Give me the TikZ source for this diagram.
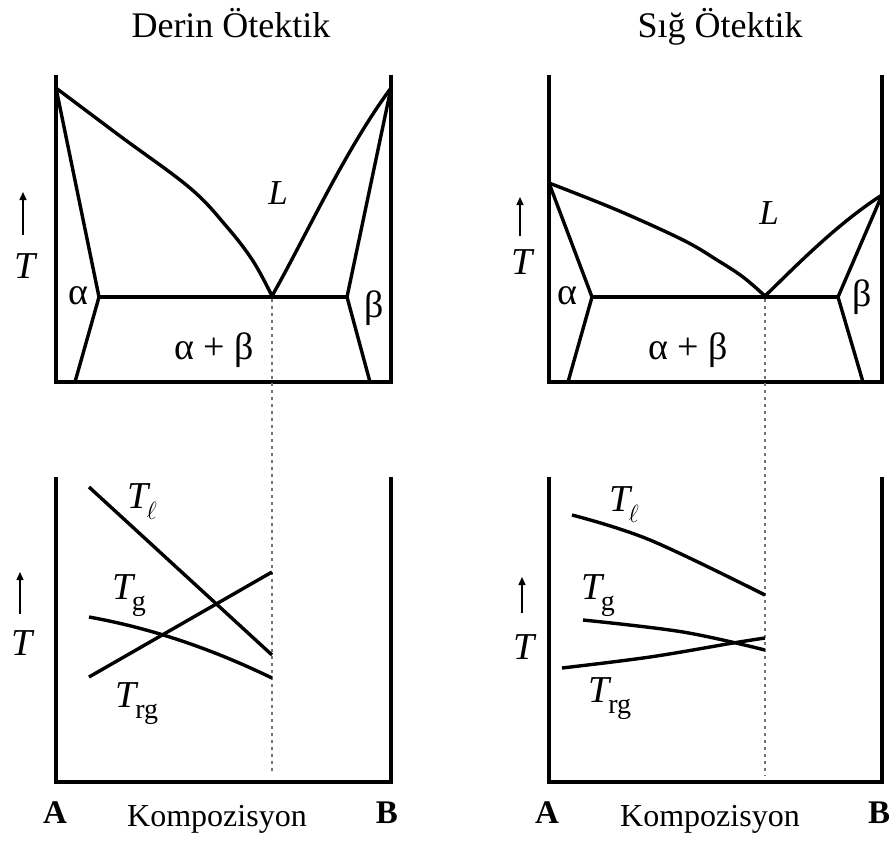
\documentclass[tikz,border=0pt]{standalone}
\usepackage{fontspec}
\setmainfont{Liberation Serif}
\usetikzlibrary{arrows.meta}
\begin{document}
\begin{tikzpicture}[x=1pt,y=-1pt,
  ax/.style={line width=3.8pt, line join=miter, line cap=butt},
  crv/.style={line width=3.4pt, line cap=butt, line join=round},
  dotl/.style={black!55, line width=1.8pt, dash pattern=on 3pt off 4pt},
  tarr/.style={line width=1.5pt, -{Triangle[length=8pt,width=7pt]}},
  ttl/.style={inner sep=0pt, anchor=base, font=\fontsize{36}{40}\selectfont},
  grk/.style={inner sep=0pt, font=\fontsize{38}{40}\selectfont},
  big/.style={inner sep=0pt, font=\fontsize{38}{40}\selectfont\itshape},
  bigL/.style={inner sep=0pt, font=\fontsize{35}{40}\selectfont\itshape},
  ab/.style={inner sep=0pt, font=\fontsize{33}{36}\selectfont\bfseries},
  komp/.style={inner sep=0pt, font=\fontsize{32}{34}\selectfont}
]
\useasboundingbox (0,0) rectangle (895,841);
\fill[white] (0,0) rectangle (895,841);

\newcommand{\Tsub}[1]{\fontsize{38}{40}\selectfont\itshape T\kern-1.5pt\raisebox{-11pt}{\fontsize{28}{30}\selectfont #1}}

% ---------- titles ----------
\node[ttl] (t1) at (231,37) {Derin Ötektik};
\node[ttl] (t2) at (720,37) {Sığ Ötektik};

% ---------- top-left phase diagram ----------
\coordinate (ma) at (56,88);
\coordinate (mb) at (391,88);
\coordinate (e1) at (272,296);
\coordinate (sa) at (99,297);
\coordinate (sb) at (347,297);
\draw[ax] (56,75) -- (56,382) -- (391,382) -- (391,75);
\draw[crv] plot[smooth, tension=0.6] coordinates {(56,88) (120,136) (190,188) (227,227) (253,261) (272,296)};
\draw[crv] (e1) .. controls (305,238) and (345,150) .. (mb);
\draw[crv] (ma) -- (sa) -- (75,382);
\draw[crv] (mb) -- (sb) -- (370,382);
\draw[crv] (sa) -- (sb);
\node[bigL] (L1) at (278,193) {L};
\node[grk] (al1) at (78,296) {α};
\node[grk] (be1) at (374,308) {β};
\node[grk] (ab1) at (214,350) {α + β};
\coordinate (ar1s) at (23,235);
\coordinate (ar1e) at (23,192);
\draw[tarr] (ar1s) -- (ar1e);
\node[big] (T1) at (25,266) {T};

% ---------- top-right phase diagram ----------
\coordinate (ma2) at (549,183);
\coordinate (mb2) at (882,195);
\coordinate (e2) at (765,296);
\coordinate (sa2) at (592,297);
\coordinate (sb2) at (838,297);
\draw[ax] (549,75) -- (549,382) -- (882,382) -- (882,75);
\draw[crv] plot[smooth, tension=0.6] coordinates {(549,183) (617,210) (683,240) (717,260) (743,277) (765,296)};
\draw[crv] (e2) .. controls (790,272) and (835,225) .. (mb2);
\draw[crv] (ma2) -- (sa2) -- (568,382);
\draw[crv] (mb2) -- (sb2) -- (863,382);
\draw[crv] (sa2) -- (sb2);
\node[bigL] (L2) at (769,213) {L};
\node[grk] (al2) at (567,296) {α};
\node[grk] (be2) at (862,297) {β};
\node[grk] (ab2) at (688,350) {α + β};
\coordinate (ar2s) at (520,236);
\coordinate (ar2e) at (520,197);
\draw[tarr] (ar2s) -- (ar2e);
\node[big] (T2) at (522,262) {T};

% ---------- dotted verticals ----------
\draw[dotl] (272,299) -- (272,774);
\draw[dotl] (765,299) -- (765,776);

% ---------- bottom-left ----------
\draw[ax] (56,477) -- (56,782) -- (391,782) -- (391,477);
\draw[crv] (89,487) -- (272,655);
\draw[crv] (89,677) -- (272,572);
\draw[crv] (89,617) .. controls (150,628) and (210,648) .. (272,678);
\node[inner sep=0pt] (Tl1) at (142,502) {\Tsub{$\ell$}};
\node[inner sep=0pt] (Tg1) at (129,596) {\Tsub{\upshape g}};
\node[inner sep=0pt] (Trg1) at (137,704) {\Tsub{\upshape rg}};
\coordinate (ar3s) at (20,614);
\coordinate (ar3e) at (20,572);
\draw[tarr] (ar3s) -- (ar3e);
\node[big] (T3) at (22,643) {T};
\node[ab] (A1) at (55,813) {A};
\node[komp] (K1) at (217,819) {Kompozisyon};
\node[ab] (B1) at (387,813) {B};

% ---------- bottom-right ----------
\draw[ax] (549,477) -- (549,782) -- (882,782) -- (882,477);
\draw[crv] plot[smooth, tension=0.6] coordinates {(572,515) (650,540) (765,595)};
\draw[crv] plot[smooth, tension=0.6] coordinates {(583,620) (683,632) (765,650)};
\draw[crv] plot[smooth, tension=0.6] coordinates {(562,668) (650,657) (733,643) (765,638)};
\node[inner sep=0pt] (Tl2) at (624,505) {\Tsub{$\ell$}};
\node[inner sep=0pt] (Tg2) at (598,596) {\Tsub{\upshape g}};
\node[inner sep=0pt] (Trg2) at (610,699) {\Tsub{\upshape rg}};
\coordinate (ar4s) at (522,613);
\coordinate (ar4e) at (522,577);
\draw[tarr] (ar4s) -- (ar4e);
\node[big] (T4) at (524,647) {T};
\node[ab] (A2) at (547,813) {A};
\node[komp] (K2) at (710,819) {Kompozisyon};
\node[ab] (B2) at (879,813) {B};
\end{tikzpicture}
\end{document}
